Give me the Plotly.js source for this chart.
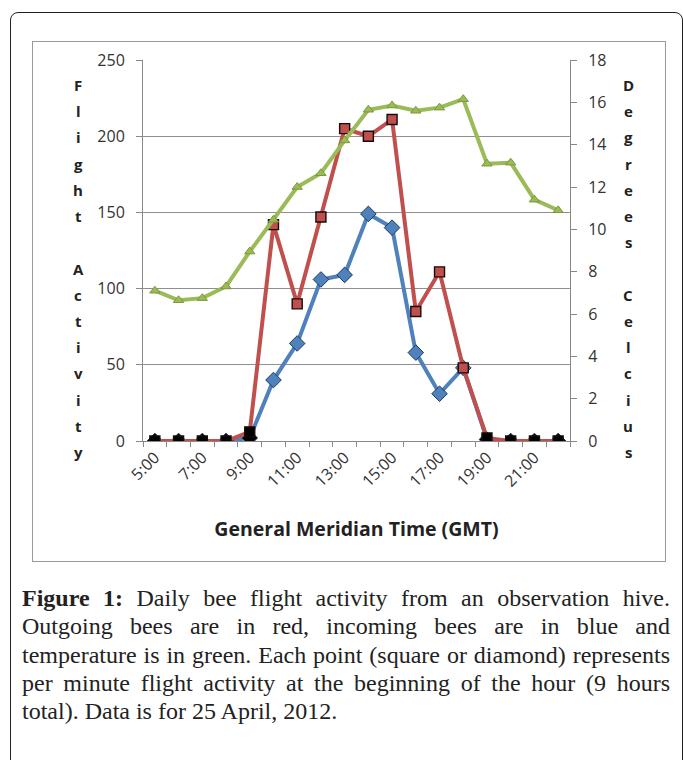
<!DOCTYPE html>
<html>
<head>
<meta charset="utf-8">
<script src="https://cdn.plot.ly/plotly-3.0.1.min.js"></script>
<style>
  body { margin: 0; background: #fff; }
  #wrap { position: relative; width: 683px; height: 760px; overflow: hidden; background: #fff; }
  #outer { position: absolute; left: 10px; top: 12px; width: 673px; height: 800px;
           border: 1.5px solid #222; border-radius: 8px; box-sizing: border-box; }
  #inner { position: absolute; left: 32px; top: 41px; width: 634px; height: 521px;
           border: 1px solid #9a9a9a; box-sizing: border-box; }
  #chart { position: absolute; left: 0; top: 0; width: 683px; height: 760px; }
  #caption { position: absolute; left: 22px; top: 584px; width: 648px;
             font-family: "Liberation Serif", serif; font-size: 21px;
             line-height: 28.3px; color: #222; }
  #caption .ln { display: block; text-align: justify; text-align-last: justify; white-space: nowrap; }
  #caption .ln.last { text-align: left; text-align-last: left; }
</style>
</head>
<body>
<div id="wrap">
  <div id="outer"></div>
  <div id="inner"></div>
  <div id="chart"></div>
  <div id="caption"></div>
</div>
<script>
// ---- data ----
const hours = ["5:00","6:00","7:00","8:00","9:00","10:00","11:00","12:00","13:00",
               "14:00","15:00","16:00","17:00","18:00","19:00","20:00","21:00","22:00"];
const outgoing = [0, 0, 0, 0, 6, 142, 90, 147, 205, 200, 211, 85, 111, 48, 2, 0, 0, 0];
const incoming = [0, 0, 0, 0, 2, 40, 64, 106, 109, 149, 140, 58, 31, 48, 1, 0, 0, 0];
const temperature = [7.1, 6.65, 6.75, 7.3, 8.95, 10.45, 12.0, 12.65, 14.2,
                     15.65, 15.85, 15.6, 15.75, 16.15, 13.1, 13.15, 11.4, 10.9];
const tickLabels = ["5:00","7:00","9:00","11:00","13:00","15:00","17:00","19:00","21:00"];
const leftTitle = "Flight Activity";
const rightTitle = "Degrees Celcius";
const xTitle = "General Meridian Time (GMT)";
const captionBold = "Figure 1:";
const captionLines = [
  " Daily bee flight activity from an observation hive.",
  "Outgoing bees are in red, incoming bees are in blue and",
  "temperature is in green. Each point (square or diamond) represents",
  "per minute flight activity at the beginning of the hour (9 hours",
  "total). Data is for 25 April, 2012."
];

// ---- geometry ----
const W = 683, H = 760;
const L = 143, R = 570, T = 60, B = 441;
const xs = hours.map((h, i) => i);
const lowColor = (vals, c) => vals.map(v => v < 10 ? "#000000" : c);

const RED = "#C0504D", BLUE = "#4F81BD", GREEN = "#9BBB59";

const traces = [
  {
    x: xs, y: incoming, type: "scatter", mode: "lines+markers", name: "Incoming",
    line: { color: BLUE, width: 4 },
    marker: { symbol: "diamond", size: 12, color: lowColor(incoming, BLUE),
              line: { color: "#1d3a5f", width: 1 } },
    xaxis: "x", yaxis: "y", hoverinfo: "skip"
  },
  {
    x: xs, y: outgoing, type: "scatter", mode: "lines+markers", name: "Outgoing",
    line: { color: RED, width: 4 },
    marker: { symbol: "square", size: 10, color: lowColor(outgoing, RED),
              line: { color: "#1a0a0a", width: 1.4 } },
    xaxis: "x", yaxis: "y", hoverinfo: "skip"
  },
  {
    x: xs, y: temperature, type: "scatter", mode: "lines+markers", name: "Temperature",
    line: { color: GREEN, width: 4 },
    marker: { symbol: "triangle-up", size: 9, color: GREEN, line: { color: "#7a9a3a", width: 1 } },
    xaxis: "x", yaxis: "y2", hoverinfo: "skip"
  }
];

const tickFont = { family: "Open Sans, sans-serif", size: 16, color: "#333" };

const annotations = [];
const addStacked = (text, xPix) => {
  const y0 = 85, step = (452 - 85) / (text.length - 1);
  [...text].forEach((ch, i) => {
    if (ch === " ") return;
    annotations.push({
      text: "<b>" + ch + "</b>", showarrow: false,
      xref: "paper", yref: "paper",
      x: (xPix - L) / (R - L), y: (B - (y0 + i * step)) / (B - T),
      xanchor: "center", yanchor: "middle",
      font: { family: "Open Sans, sans-serif", size: 15, color: "#222" }
    });
  });
};
addStacked(leftTitle, 78);
addStacked(rightTitle, 628);

const layout = {
  width: W, height: H,
  margin: { l: L, r: W - R, t: T, b: H - B, pad: 0 },
  paper_bgcolor: "rgba(0,0,0,0)", plot_bgcolor: "rgba(0,0,0,0)",
  showlegend: false,
  xaxis: {
    range: [-0.5, hours.length - 0.5],
    tickmode: "array",
    tickvals: tickLabels.map(l => hours.indexOf(l)),
    ticktext: tickLabels,
    tickangle: -45,
    ticks: "",
    tickfont: tickFont,
    minor: { tickmode: "linear", tick0: -0.5, dtick: 1, ticks: "outside", ticklen: 5,
             tickcolor: "#888", tickwidth: 1, showgrid: false },
    showline: true, linecolor: "#888", linewidth: 1,
    showgrid: false, zeroline: false, fixedrange: true,
    title: { text: "<b>" + xTitle + "</b>", standoff: 32,
             font: { family: "Open Sans, sans-serif", size: 19.5, color: "#222" } }
  },
  yaxis: {
    range: [0, 250], dtick: 50, tick0: 0,
    ticks: "outside", ticklen: 6, tickcolor: "#888",
    tickfont: tickFont, ticklabelstandoff: 8,
    showline: true, linecolor: "#888", linewidth: 1,
    showgrid: true, gridcolor: "#8f8f8f", gridwidth: 1,
    zeroline: false, fixedrange: true
  },
  yaxis2: {
    overlaying: "y", side: "right",
    range: [0, 18], dtick: 2, tick0: 0,
    ticks: "outside", ticklen: 6, tickcolor: "#888",
    tickfont: tickFont, ticklabelstandoff: 8,
    showline: true, linecolor: "#888", linewidth: 1,
    showgrid: false, zeroline: false, fixedrange: true
  },
  annotations: annotations
};

Plotly.newPlot("chart", traces, layout, { staticPlot: true, displayModeBar: false });

// caption: fit font so that the longest (un-stretched) line fills the width
const cap = document.getElementById("caption");
const ctx = document.createElement("canvas").getContext("2d");
ctx.font = "21px 'Liberation Serif'";
const w3 = ctx.measureText(captionLines[2]).width;
const fs = Math.min(24, 21 * 646 / w3);
cap.style.fontSize = fs.toFixed(2) + "px";
captionLines.forEach((t, i) => {
  const s = document.createElement("span");
  s.className = "ln" + (i === captionLines.length - 1 ? " last" : "");
  if (i === 0) {
    const b = document.createElement("b");
    b.textContent = captionBold;
    s.appendChild(b);
  }
  s.appendChild(document.createTextNode(t));
  cap.appendChild(s);
});
</script>
</body>
</html>
